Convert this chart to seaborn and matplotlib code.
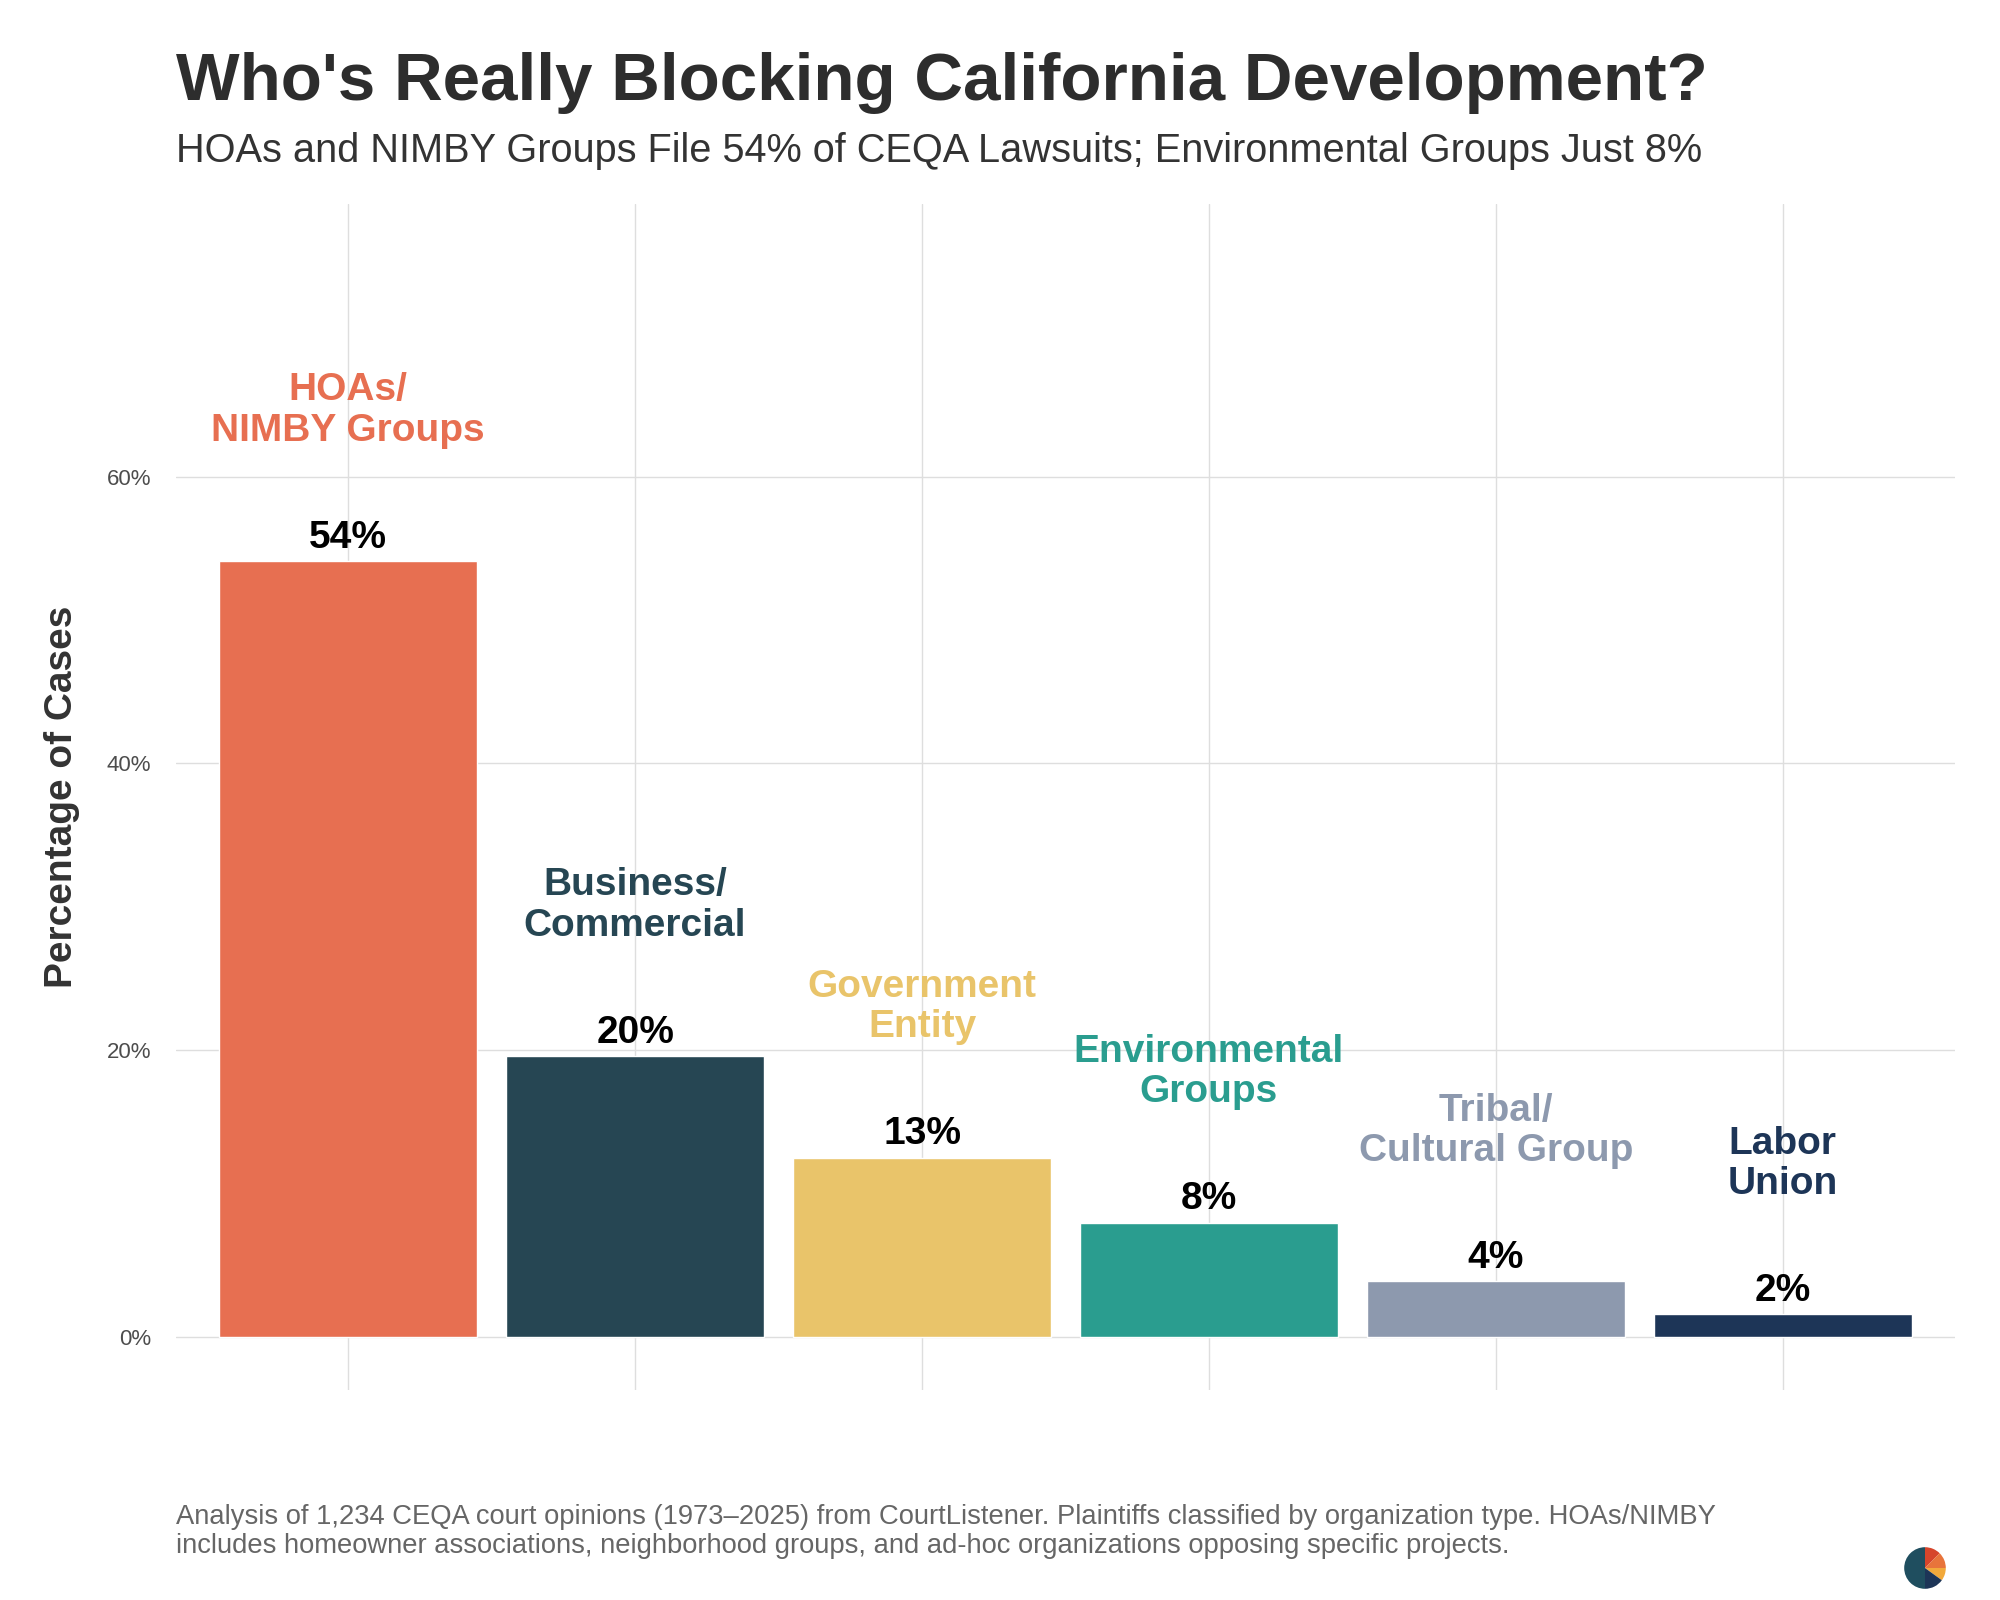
import matplotlib
matplotlib.use('Agg')
import matplotlib.pyplot as plt
from matplotlib.ticker import FuncFormatter
import seaborn as sns
import pandas as pd

# ── data ──────────────────────────────────────────────────────
CATEGORIES = ['HOAs/\nNIMBY Groups', 'Business/\nCommercial', 'Government\nEntity',
              'Environmental\nGroups', 'Tribal/\nCultural Group', 'Labor\nUnion']
SHARES     = [54.1, 19.6, 12.5, 8.0, 3.9, 1.6]          # % of cases
VALUE_TXT  = ['54%', '20%', '13%', '8%', '4%', '2%']
COLORS     = ['#E76F51', '#264653', '#E9C46A', '#2A9D8F', '#8D99AE', '#1D3557']
Y_TICKS    = [0, 20, 40, 60]

TITLE    = "Who's Really Blocking California Development?"
SUBTITLE = 'HOAs and NIMBY Groups File 54% of CEQA Lawsuits; Environmental Groups Just 8%'
CAPTION  = ('Analysis of 1,234 CEQA court opinions (1973–2025) from CourtListener. '
            'Plaintiffs classified by organization type. HOAs/NIMBY\n'
            'includes homeowner associations, neighborhood groups, and ad-hoc '
            'organizations opposing specific projects.')

# logo wedges (decoration, bottom right), clockwise from 12 o'clock
LOGO_SHARES = [12.5, 12.5, 10, 15, 50]
LOGO_COLORS = ['#D6452B', '#E8743B', '#F2A93B', '#1D3557', '#1F4E5F']

df = pd.DataFrame({'group': CATEGORIES, 'share': SHARES})

# ── style ─────────────────────────────────────────────────────
sns.set_theme(style='whitegrid')
plt.rcParams['font.family'] = ['Liberation Sans', 'DejaVu Sans']
plt.rcParams['grid.color'] = '#dedede'
plt.rcParams['grid.linewidth'] = 1.0

fig = plt.figure(figsize=(20, 16), dpi=100)
ax = fig.add_axes([0.088, 0.131, 0.8895, 0.7415])

sns.barplot(data=df, x='group', y='share', hue='group', palette=COLORS,
            legend=False, width=0.9, saturation=1, ax=ax)

# labels: value on bar, category name above
for i, (v, txt, c, name) in enumerate(zip(SHARES, VALUE_TXT, COLORS, CATEGORIES)):
    ax.text(i, v + 0.95, txt, ha='center', va='baseline',
            fontsize=28, fontweight='bold', color='black')
    ax.text(i, v + 10.5, name, ha='center', va='center',
            fontsize=28, fontweight='bold', color=c, linespacing=1.15)

ax.set_xlim(-0.6, len(CATEGORIES) - 0.4)
ax.set_ylim(-3.7, 79)
ax.set_yticks(Y_TICKS)
ax.yaxis.set_major_formatter(FuncFormatter(lambda y, _: f'{y:.0f}%'))
ax.set_xticklabels([])
ax.set_xlabel('')
ax.set_ylabel('Percentage of Cases', fontsize=28, fontweight='bold', color='#333333')
ax.yaxis.set_label_coords(-0.054, 0.5)
ax.tick_params(axis='y', length=0, pad=18, labelsize=16, labelcolor='#4d4d4d')
ax.tick_params(axis='x', length=0)
for s in ax.spines.values():
    s.set_visible(False)
ax.grid(True, axis='both')
ax.set_axisbelow(True)

# ── titles / caption ──────────────────────────────────────────
fig.text(0.088, 0.9375, TITLE, ha='left', va='baseline',
         fontsize=48.5, fontweight='bold', color='#2d2d2d')
fig.text(0.088, 0.89875, SUBTITLE, ha='left', va='baseline',
         fontsize=28.6, color='#333333')
fig.text(0.088, 0.06, CAPTION, ha='left', va='top',
         fontsize=19.7, color='#666666', linespacing=1.15)

# small round logo
lax = fig.add_axes([0.9495, 0.00375, 0.026, 0.0325])
lax.pie(LOGO_SHARES, colors=LOGO_COLORS, startangle=90, counterclock=False,
        wedgeprops={'linewidth': 0})
lax.set_aspect('equal')
lax.axis('off')

fig.savefig('out.png', dpi=100, facecolor='white')
plt.close(fig)
